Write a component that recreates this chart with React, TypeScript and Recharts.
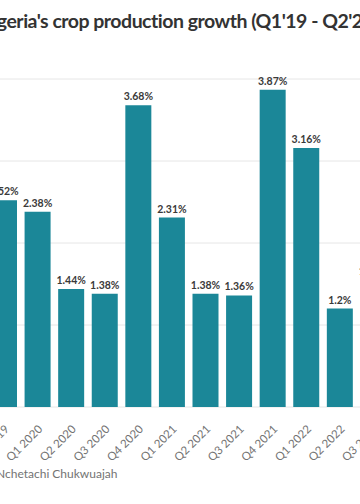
import React from 'react';
import { BarChart, Bar, XAxis, YAxis, CartesianGrid, LabelList } from 'recharts';

// quarterly crop production growth, % (visible window of the chart)
const quarters = ['Q4 2019', 'Q1 2020', 'Q2 2020', 'Q3 2020', 'Q4 2020', 'Q1 2021', 'Q2 2021', 'Q3 2021', 'Q4 2021', 'Q1 2022', 'Q2 2022', 'Q3 2022'];
const growth = [2.52, 2.38, 1.44, 1.38, 3.68, 2.31, 1.38, 1.36, 3.87, 3.16, 1.2, 1.55];
const yTicks = [0, 1, 2, 3, 4];

const data = quarters.map((q, i) => ({ quarter: q, value: growth[i] }));

const FONT = 'Lato, "Open Sans", sans-serif';

const QuarterTick = (props: any) => {
  const { x, y, payload } = props;
  return (
    <g transform={`translate(${x + 3},${y + 12})`}>
      <text x={0} y={0} dy={4} textAnchor="end" transform="rotate(-45)" fill="#737373" fontSize={11.5} fontFamily={FONT}>
        {payload.value}
      </text>
    </g>
  );
};

export default function App() {
  return (
    <div style={{ position: 'relative', width: 360, height: 504, overflow: 'hidden', background: '#fff', fontFamily: FONT }}>
      <style>{'body{margin:0}'}</style>
      <div style={{ position: 'absolute', left: -22, top: 9, fontSize: 19.5, letterSpacing: -0.5, fontWeight: 700, color: '#333', whiteSpace: 'nowrap' }}>
        Nigeria's crop production growth (Q1'19 - Q2'22)
      </div>
      <div style={{ position: 'absolute', left: -13, top: 0 }}>
        <BarChart width={403} height={504} data={data} margin={{ top: 79, right: 0, left: 0, bottom: 37 }}>
          <CartesianGrid vertical={false} stroke="#e6e6e6" />
          <XAxis dataKey="quarter" height={60} interval={0} axisLine={false} tickLine={false} tick={<QuarterTick />} />
          <YAxis hide domain={[0, 4]} ticks={yTicks} />
          <Bar dataKey="value" fill="#1b8798" barSize={26} isAnimationActive={false}>
            <LabelList dataKey="value" position="top" offset={5} formatter={(v: any) => `${v}%`}
              style={{ fill: '#3a3a3a', fontSize: 10.5, fontWeight: 700, fontFamily: FONT }} />
          </Bar>
        </BarChart>
      </div>
      <div style={{ position: 'absolute', left: -4, top: 466, fontSize: 12, color: '#737373', whiteSpace: 'nowrap' }}>
        Nchetachi Chukwuajah
      </div>
    </div>
  );
}
